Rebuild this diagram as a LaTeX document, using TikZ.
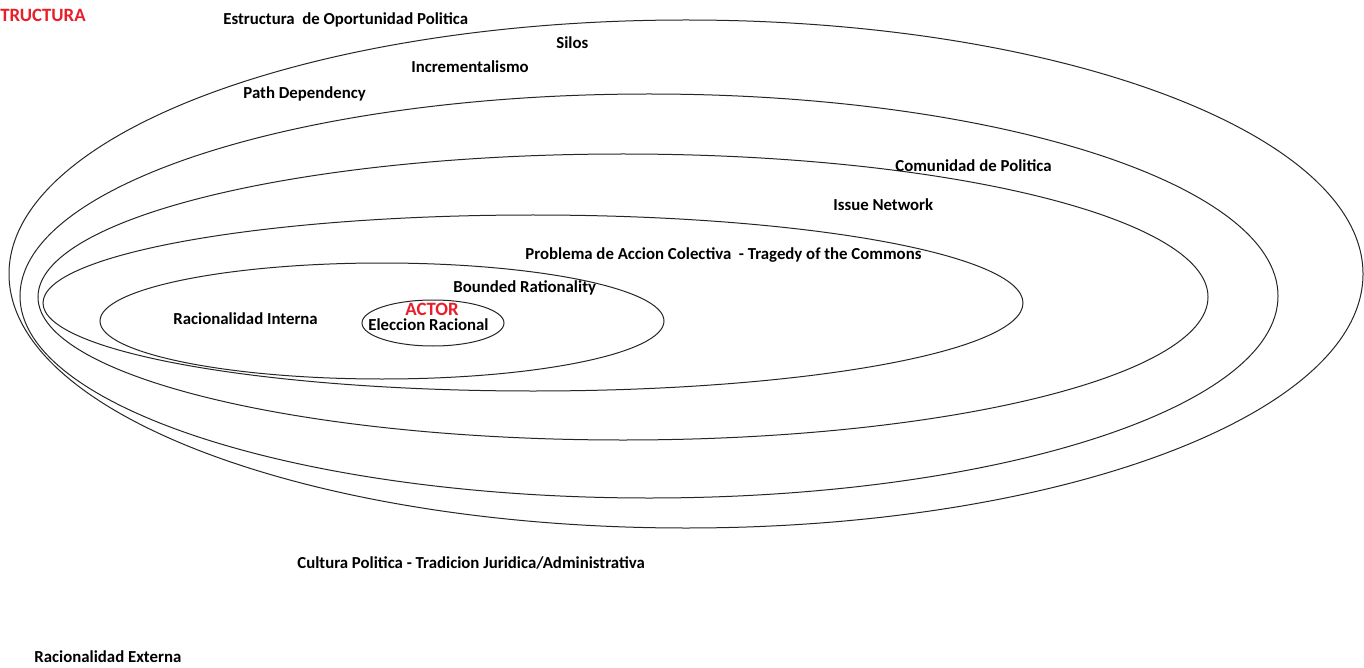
\documentclass[tikz,border=0pt]{standalone}
\usepackage{fontspec}
\setmainfont{Carlito}
\definecolor{actorred}{RGB}{232,30,40}
\tikzset{
  lbl/.style = {anchor = west, inner sep = 0pt, font = \fontsize{8.4}{10}\selectfont\bfseries},
  redlbl/.style = {lbl, text = actorred, font = \fontsize{9.4}{11}\selectfont\bfseries},
  ring/.style = {line width = 0.5pt, black!85}
}
\begin{document}
\begin{tikzpicture}[x = 0.5pt, y = -0.5pt]
  \useasboundingbox [fill = white] (0, 0) rectangle (1364, 668);
  \draw [ring] (686, 274) ellipse [x radius = 677, y radius = 254];
  \draw [ring] (649, 296) ellipse [x radius = 629, y radius = 202];
  \draw [ring] (623, 297) ellipse [x radius = 585, y radius = 143];
  \draw [ring] (533, 303) ellipse [x radius = 490, y radius = 88];
  \draw [ring] (382, 321) ellipse [x radius = 282, y radius = 58];
  \draw [ring] (433, 323) ellipse [x radius = 71, y radius = 23];

  \node [redlbl] (estr) at (0, 15) {TRUCTURA};
  \node [lbl] (eop) at (223, 20) {Estructura\ \ de Oportunidad Politica};
  \node [lbl] (silos) at (556, 43) {Silos};
  \node [lbl] (incr) at (411, 67) {Incrementalismo};
  \node [lbl] (path) at (243, 94) {Path Dependency};
  \node [lbl] (comu) at (895, 166) {Comunidad de Politica};
  \node [lbl] (issue) at (833, 205) {Issue Network};
  \node [lbl] (prob) at (525, 255) {Problema de Accion Colectiva\ \ - Tragedy of the Commons};
  \node [lbl] (bound) at (453, 288) {Bounded Rationality};
  \node [lbl] (rint) at (173, 319) {Racionalidad Interna};
  \node [redlbl] (actor) at (405, 309) {ACTOR};
  \node [lbl] (elec) at (368, 325) {Eleccion Racional};
  \node [lbl] (cult) at (297, 563) {Cultura Politica - Tradicion Juridica/Administrativa};
  \node [lbl] (rext) at (34, 657) {Racionalidad Externa};
\end{tikzpicture}
\end{document}
